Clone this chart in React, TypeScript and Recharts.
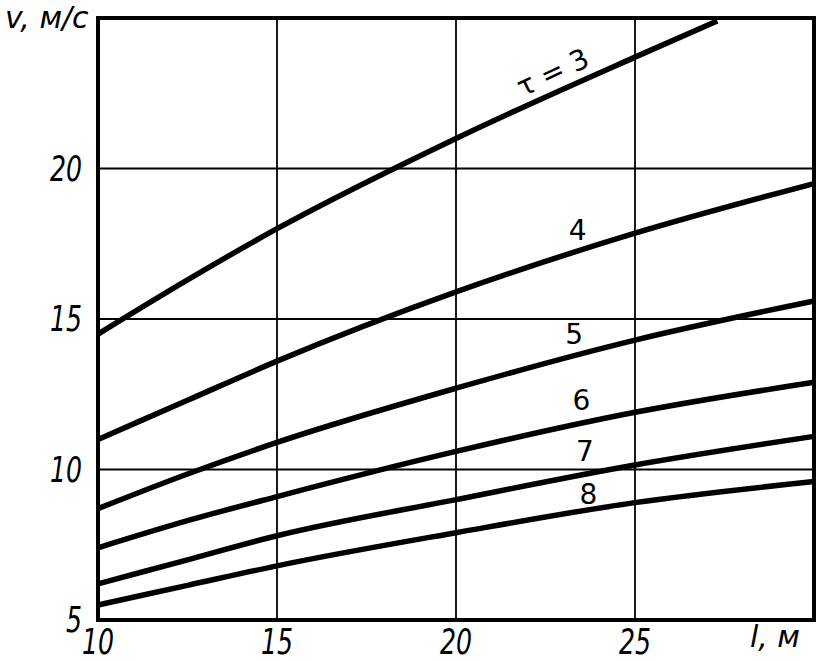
import React from 'react';
import {
  LineChart,
  Line,
  XAxis,
  YAxis,
  CartesianGrid,
  ReferenceArea,
  ReferenceDot,
  Label,
} from 'recharts';

// l, m  -> v, m/s for each τ curve
const lengths = [10, 12.5, 15, 20, 25, 30];
const lengthsTau3 = [10, 12.5, 15, 20, 25, 27.3];

const vTau3 = [14.5, 16.3, 18.0, 21.0, 23.7, 24.9];
const vTau4 = [11.0, 12.3, 13.6, 15.9, 17.85, 19.5];
const vTau5 = [8.7, 9.85, 10.9, 12.7, 14.3, 15.6];
const vTau6 = [7.4, 8.3, 9.1, 10.6, 11.9, 12.9];
const vTau7 = [6.2, 7.0, 7.8, 9.0, 10.15, 11.1];
const vTau8 = [5.5, 6.15, 6.8, 7.9, 8.9, 9.6];

const xTicks = [10, 15, 20, 25];
const yTicks = [5, 10, 15, 20];

// curve captions: text, anchor l, anchor v
const captions = [
  { text: 'τ = 3', l: 22.7, v: 23.2, angle: -25 },
  { text: '4', l: 23.4, v: 17.95, angle: 0 },
  { text: '5', l: 23.3, v: 14.5, angle: 0 },
  { text: '6', l: 23.5, v: 12.3, angle: 0 },
  { text: '7', l: 23.6, v: 10.6, angle: 0 },
  { text: '8', l: 23.7, v: 9.2, angle: 0 },
];

const toPoints = (ls: number[], vs: number[]) => ls.map((l, i) => ({ l, v: vs[i] }));

const series = [
  toPoints(lengthsTau3, vTau3),
  toPoints(lengths, vTau4),
  toPoints(lengths, vTau5),
  toPoints(lengths, vTau6),
  toPoints(lengths, vTau7),
  toPoints(lengths, vTau8),
];

const FONT = '"DejaVu Sans", sans-serif';

// narrow, tall italic digits like the drafting stencil in the original
const NarrowTick = (props: any) => {
  const { x, y, payload, textAnchor, dy } = props;
  return (
    <g transform={`translate(${x},${y})`}>
      <text
        transform="scale(0.72,1)"
        textAnchor={textAnchor}
        dy={dy}
        fontSize={35}
        fontStyle="italic"
        fontFamily={FONT}
        fill="#000"
      >
        {payload.value}
      </text>
    </g>
  );
};

const App: React.FC = () => {
  return (
    <div style={{ position: 'absolute', left: 0, top: 0, background: '#fff' }}>
      <LineChart
        width={818}
        height={661}
        margin={{ top: 18, right: 4, bottom: 0, left: 0 }}
      >
        <CartesianGrid stroke="#000" strokeWidth={1.8} />
        <XAxis
          type="number"
          dataKey="l"
          domain={[10, 30]}
          ticks={xTicks}
          axisLine={false}
          tickLine={false}
          tickSize={0}
          tickMargin={9}
          height={41}
          tick={<NarrowTick dy="0.71em" />}
          allowDuplicatedCategory={false}
        >
          <Label
            content={(props: any) => {
              const vb = props.viewBox || { x: 98, y: 620, width: 716 };
              return (
                <text
                  x={vb.x + vb.width - 14}
                  y={vb.y + 27}
                  textAnchor="end"
                  fontSize={30}
                  fontStyle="italic"
                  fontFamily={FONT}
                  fill="#000"
                >
                  l, м
                </text>
              );
            }}
          />
        </XAxis>
        <YAxis
          type="number"
          domain={[5, 25]}
          ticks={yTicks}
          axisLine={false}
          tickLine={false}
          tickSize={0}
          tickMargin={16}
          width={98}
          tick={<NarrowTick dy="0.355em" />}
        >
          <Label
            content={(props: any) => {
              const vb = props.viewBox || { x: 0, y: 18 };
              return (
                <text
                  x={vb.x + 5}
                  y={vb.y + 10}
                  textAnchor="start"
                  fontSize={30}
                  fontStyle="italic"
                  fontFamily={FONT}
                  fill="#000"
                >
                  v, м/с
                </text>
              );
            }}
          />
        </YAxis>
        <ReferenceArea
          x1={10}
          x2={30}
          y1={5}
          y2={25}
          fill="none"
          fillOpacity={0}
          stroke="#000"
          strokeWidth={4}
        />
        {series.map((data, i) => (
          <Line
            key={`tau-${i}`}
            data={data}
            dataKey="v"
            type="monotone"
            stroke="#000"
            strokeWidth={5.5}
            dot={false}
            activeDot={false}
            isAnimationActive={false}
          />
        ))}
        {captions.map((c) => (
          <ReferenceDot
            key={c.text}
            x={c.l}
            y={c.v}
            r={0}
            fill="none"
            stroke="none"
            label={{
              value: c.text,
              position: 'center',
              angle: c.angle,
              fontSize: 28,
              fontFamily: FONT,
              fill: '#000',
            }}
          />
        ))}
      </LineChart>
    </div>
  );
};

export default App;
